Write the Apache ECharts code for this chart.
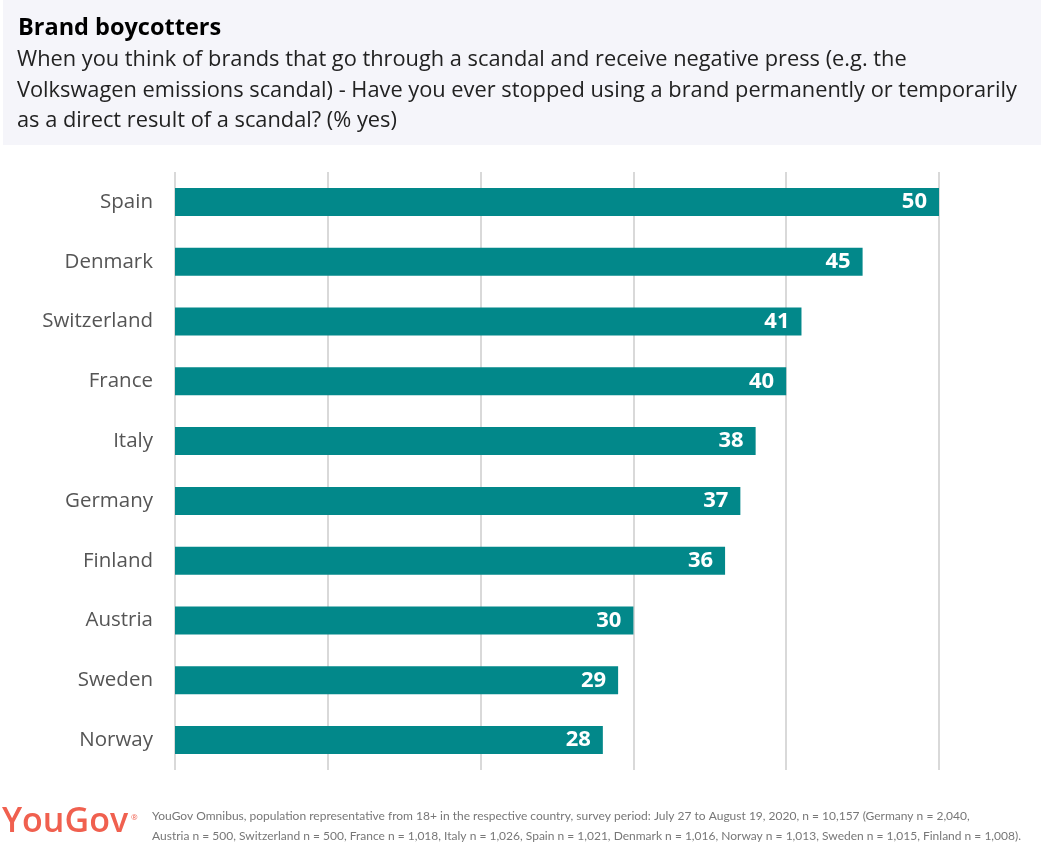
<!DOCTYPE html>
<html>
<head>
<meta charset="utf-8">
<script src="https://cdn.jsdelivr.net/npm/echarts@6/dist/echarts.min.js"></script>
<style>
  html, body { margin: 0; padding: 0; background: #fff; }
  #chart { width: 1041px; height: 843px; }
</style>
</head>
<body>
<div id="chart"></div>
<script>
// data, top to bottom as shown
const countries = ['Spain', 'Denmark', 'Switzerland', 'France', 'Italy', 'Germany', 'Finland', 'Austria', 'Sweden', 'Norway'];
const yesShare = [50, 45, 41, 40, 38, 37, 36, 30, 29, 28];
const axisTicks = [0, 10, 20, 30, 40, 50];

const titleText = 'Brand boycotters';
const subtitleText = 'When you think of brands that go through a scandal and receive negative press (e.g. the\n' +
  'Volkswagen emissions scandal) - Have you ever stopped using a brand permanently or temporarily\n' +
  'as a direct result of a scandal? (% yes)';
const noteText = 'YouGov Omnibus, population representative from 18+ in the respective country, survey period: July 27 to August 19, 2020, n = 10,157 (Germany n = 2,040,\n' +
  'Austria n = 500, Switzerland n = 500, France n = 1,018, Italy n = 1,026, Spain n = 1,021, Denmark n = 1,016, Norway n = 1,013, Sweden n = 1,015, Finland n = 1,008).';

const chart = echarts.init(document.getElementById('chart'));

chart.setOption({
  backgroundColor: '#fff',
  textStyle: { fontFamily: 'Open Sans' },
  graphic: [
    {
      type: 'rect',
      left: 3, top: 0,
      shape: { width: 1038, height: 145 },
      style: { fill: '#f5f5fa' }
    },
    {
      type: 'text',
      left: 18, top: 16,
      style: { text: titleText, font: 'bold 23.5px "Open Sans"', fill: '#000' }
    },
    {
      type: 'text',
      left: 17, top: 45,
      style: { text: subtitleText, font: '21.8px "Open Sans"', fill: '#222', lineHeight: 30.5 }
    },
    {
      type: 'text',
      left: 2, top: 805,
      style: { text: 'YouGov', font: '600 34px "Open Sans"', fill: '#f0604f' }
    },
    {
      type: 'text',
      left: 131, top: 814,
      style: { text: '®', font: '8px "Open Sans"', fill: '#f0604f' }
    },
    {
      type: 'text',
      right: 20, top: 806,
      style: { text: noteText, font: '12px Lato', fill: '#777', lineHeight: 20, align: 'right' }
    }
  ],
  grid: { left: 175, right: 102, top: 172, bottom: 73, containLabel: false },
  xAxis: {
    type: 'value',
    min: axisTicks[0],
    max: axisTicks[axisTicks.length - 1],
    interval: axisTicks[1] - axisTicks[0],
    axisLabel: { show: false },
    axisLine: { show: false },
    axisTick: { show: false },
    splitLine: { show: true, lineStyle: { color: '#d9d9d9', width: 2 } }
  },
  yAxis: {
    type: 'category',
    data: countries,
    inverse: true,
    axisLine: { show: false },
    axisTick: { show: false },
    axisLabel: { color: '#555', fontSize: 20.5, margin: 22, fontFamily: 'Open Sans' }
  },
  series: [{
    type: 'bar',
    data: yesShare,
    barWidth: 28,
    itemStyle: { color: '#02888a' },
    label: {
      show: true,
      position: 'insideRight',
      distance: 12,
      color: '#fff',
      fontSize: 22,
      fontWeight: 'bold',
      fontFamily: 'Open Sans'
    }
  }]
});
</script>
</body>
</html>
